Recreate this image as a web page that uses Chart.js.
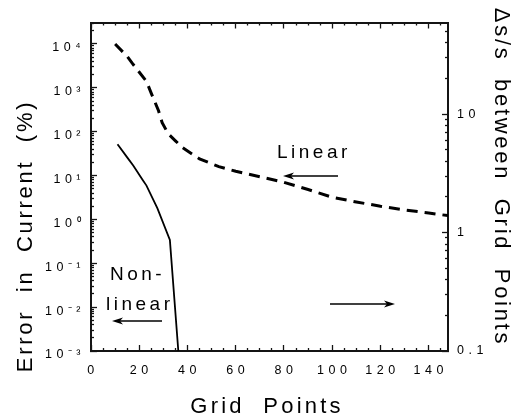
<!DOCTYPE html>
<html>
<head>
<meta charset="utf-8">
<script src="https://cdn.jsdelivr.net/npm/chart.js@4.4.0/dist/chart.umd.min.js"></script>
<style>
  html, body { margin: 0; padding: 0; background: #fff; }
  #wrap { width: 522px; height: 417px; position: relative; }
</style>
</head>
<body>
<div id="wrap"><canvas id="chart"></canvas></div>
<script>
// Error in current vs number of grid points (linear vs non-linear grid)

const xTicks = [0, 20, 40, 60, 80, 100, 120, 140];
const leftDecades = [-3, -2, -1, 0, 1, 2, 3, 4];
const rightTicks = [0.1, 1, 10];

// dashed curve ("Linear")
const linearX = [10, 15, 17, 23, 25, 28, 29.5, 32, 35, 38, 45, 53, 60, 70, 80, 90, 100, 110, 120, 130, 140, 148];
const linearY = [10000, 5200, 3700, 1400, 750, 300, 160, 90, 62, 43, 24, 16, 12.5, 9.4, 7, 4.8, 3.2, 2.5, 2.0, 1.65, 1.4, 1.22];

// solid curve ("Non-linear")
const nonlinearX = [11, 15, 17.5, 21.5, 23, 27.5, 32.7, 36.2];
const nonlinearY = [52, 26, 17, 7.8, 5.9, 1.8, 0.34, 0.001];

const FONT = '"Liberation Sans", Arial, Helvetica, sans-serif';
const SUP = { '-': '\u207B', '0': '\u2070', '1': '\u00B9', '2': '\u00B2', '3': '\u00B3', '4': '\u2074' };
const X_MAX = 148;
const Y_MAX = Math.pow(10, 4.49);
const Y2_MAX = 59.3;
const INK = '#141414';

function supLabel(k) {
    return '10' + String(k).split('').map(c => SUP[c]).join('');
}

function zip(xs, ys) {
    return xs.map((x, i) => ({ x, y: ys[i] }));
}

// minor tick positions: every 5 on x, 2..9 per decade on log axes
function linMinor(max) {
    const out = [];
    for (let v = 5; v <= max; v += 5) if (v % 20 !== 0) out.push(v);
    return out;
}
function logMinor(min, max) {
    const out = [];
    for (let k = Math.floor(Math.log10(min)); k <= Math.ceil(Math.log10(max)); k++) {
        for (let m = 2; m <= 9; m++) {
            const v = m * Math.pow(10, k);
            if (v > min && v < max) out.push(v);
        }
    }
    return out;
}

// inward ticks: negative tick length, nothing drawn on the plot area
function tickGrid(len) {
    return { display: true, drawOnChartArea: false, drawTicks: true, tickLength: -len, tickWidth: 1.3, tickColor: INK };
}
const BORDER = { display: true, color: INK, width: 2 };

function minorAxis(type, position, min, max, values) {
    const horizontal = position === 'top' || position === 'bottom';
    return {
        type, position, min, max, display: true, weight: -1,
        grid: tickGrid(3), border: { display: false }, ticks: { display: false },
        afterBuildTicks: s => { s.ticks = values.map(v => ({ value: v })); },
        afterFit: s => { if (horizontal) s.height = 0; else s.width = 0; },
    };
}

function drawArrow(ctx, x1, x2, y) {
    const dir = Math.sign(x2 - x1);
    ctx.beginPath();
    ctx.moveTo(x1, y);
    ctx.lineTo(x2 - dir * 8, y);
    ctx.stroke();
    ctx.beginPath();
    ctx.moveTo(x2, y);
    ctx.lineTo(x2 - dir * 11, y - 3.5);
    ctx.lineTo(x2 - dir * 8, y);
    ctx.lineTo(x2 - dir * 11, y + 3.5);
    ctx.closePath();
    ctx.fill();
}

// spaced tick labels, axis titles and the in-plot annotations
const textPlugin = {
    id: 'texts',
    beforeDraw(chart) {
        chart.ctx.letterSpacing = '4.5px';
    },
    afterDraw(chart) {
        const ctx = chart.ctx;
        ctx.save();
        ctx.font = '22px ' + FONT;
        ctx.fillStyle = '#000';
        ctx.strokeStyle = '#000';

        ctx.letterSpacing = '3.2px';
        ctx.textBaseline = 'alphabetic';
        ctx.textAlign = 'center';
        ctx.fillText('Grid  Points', 267, 413);

        ctx.letterSpacing = '2.7px';
        ctx.save();
        ctx.translate(32, 236);
        ctx.rotate(-Math.PI / 2);
        ctx.fillText('Error  in  Current  (%)', 0, 0);
        ctx.restore();

        ctx.save();
        ctx.translate(495, 177);
        ctx.rotate(Math.PI / 2);
        ctx.fillText('\u0394s/s  between  Grid  Points', 0, 0);
        ctx.restore();

        ctx.font = '19px ' + FONT;
        ctx.letterSpacing = '3.5px';
        ctx.textAlign = 'left';
        ctx.fillText('Linear', 277, 158);
        ctx.fillText('Non-', 110, 280);
        ctx.fillText('linear', 106, 310);

        ctx.setLineDash([]);
        ctx.lineWidth = 1.3;
        drawArrow(ctx, 338, 283, 176);
        drawArrow(ctx, 162, 112, 321);
        drawArrow(ctx, 330, 395, 304);
        ctx.restore();
    }
};

const ctx = document.getElementById('chart');
Chart.defaults.font.family = FONT;
Chart.defaults.color = '#000';

new Chart(ctx, {
    type: 'line',
    data: {
        datasets: [{
            label: 'Linear',
            data: zip(linearX, linearY),
            xAxisID: 'x', yAxisID: 'y',
            borderColor: '#000', borderWidth: 3, borderDash: [11, 7],
            pointRadius: 0, fill: false, tension: 0,
        }, {
            label: 'Non-linear',
            data: zip(nonlinearX, nonlinearY),
            xAxisID: 'x', yAxisID: 'y',
            borderColor: '#000', borderWidth: 1.8,
            pointRadius: 0, fill: false, tension: 0,
        }],
    },
    options: {
        responsive: true, maintainAspectRatio: false, animation: false,
        layout: { padding: { top: 21, left: 0, right: 0, bottom: 0 } },
        plugins: { legend: { display: false }, tooltip: { enabled: false } },
        scales: {
            x: {
                type: 'linear', position: 'bottom', min: 0, max: X_MAX,
                grid: tickGrid(6), border: BORDER,
                afterBuildTicks: s => { s.ticks = xTicks.map(v => ({ value: v })); },
                afterFit: s => { s.height = 66; },
                ticks: { font: { size: 12.5 }, padding: 18, labelOffset: 2, maxRotation: 0, autoSkip: false },
            },
            xTop: {
                type: 'linear', position: 'top', min: 0, max: X_MAX, display: true,
                grid: tickGrid(6), border: BORDER, ticks: { display: false },
                afterBuildTicks: s => { s.ticks = xTicks.map(v => ({ value: v })); },
                afterFit: s => { s.height = 0; },
            },
            y: {
                type: 'logarithmic', position: 'left', min: 1e-3, max: Y_MAX,
                grid: tickGrid(6), border: BORDER,
                afterBuildTicks: s => { s.ticks = leftDecades.map(k => ({ value: Math.pow(10, k) })); },
                afterFit: s => { s.width = 91; },
                ticks: { font: { size: 12.5 }, padding: 12, labelOffset: 4, autoSkip: false,
                         callback: v => supLabel(Math.round(Math.log10(v))) },
            },
            y2: {
                type: 'logarithmic', position: 'right', min: 0.1, max: Y2_MAX,
                grid: tickGrid(6), border: BORDER,
                afterBuildTicks: s => { s.ticks = rightTicks.map(v => ({ value: v })); },
                afterFit: s => { s.width = 74; },
                ticks: { font: { size: 12.5 }, padding: 15, autoSkip: false, callback: v => String(v) },
            },
            xMinor: minorAxis('linear', 'bottom', 0, X_MAX, linMinor(X_MAX)),
            xTopMinor: minorAxis('linear', 'top', 0, X_MAX, linMinor(X_MAX)),
            yMinor: minorAxis('logarithmic', 'left', 1e-3, Y_MAX, logMinor(1e-3, Y_MAX)),
            y2Minor: minorAxis('logarithmic', 'right', 0.1, Y2_MAX, logMinor(0.1, Y2_MAX)),
        },
    },
    plugins: [textPlugin],
});
</script>
</body>
</html>
